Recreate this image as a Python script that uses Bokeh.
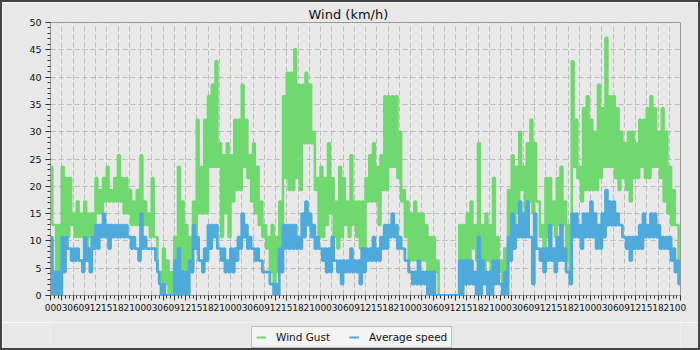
import numpy as np
from bokeh.plotting import figure
from bokeh.layouts import column
from bokeh.models import FixedTicker, Legend, LegendItem, Range1d
from bokeh.embed import file_html
from bokeh.resources import INLINE

# Hour-of-day tick labels (every 3 hours) over 7 days
hour_labels = ["00", "03", "06", "09", "12", "15", "18", "21"]
n_days = 7

# Hourly envelope of the readings (km/h): high / low within each hour
gust_hi = [
    23.6, 12.9, 12.9, 23.6, 21.5, 21.5, 15.0, 17.2, 15.0, 17.2, 15.0, 15.0,
    21.5, 19.3, 21.5, 23.6, 19.3, 21.5, 25.7, 21.5, 21.5, 19.3, 17.2, 19.3,
    25.7, 17.2, 15.0, 21.5, 10.7, 4.3, 8.6, 6.4, 4.3, 10.7, 23.6, 17.2,
    12.9, 10.7, 17.2, 32.2, 23.6, 32.2, 36.5, 38.6, 42.9, 27.9, 25.7, 27.9,
    25.7, 32.2, 32.2, 38.6, 32.2, 25.7, 27.9, 23.6, 17.2, 12.9, 10.7, 12.9,
    10.7, 17.2, 36.5, 40.8, 40.8, 45.1, 38.6, 38.6, 40.8, 38.6, 30.0, 21.5,
    23.6, 21.5, 27.9, 21.5, 17.2, 23.6, 21.5, 17.2, 25.7, 17.2, 17.2, 17.2,
    21.5, 25.7, 27.9, 23.6, 25.7, 36.5, 36.5, 36.5, 36.5, 30.0, 19.3, 17.2,
    15.0, 17.2, 15.0, 15.0, 12.9, 10.7, 10.7, 6.4, 0.0, 0.0, 0.0, 0.0,
    0.0, 12.9, 12.9, 15.0, 17.2, 12.9, 27.9, 12.9, 15.0, 12.9, 21.5, 10.7,
    6.4, 8.6, 19.3, 25.7, 23.6, 30.0, 23.6, 27.9, 32.2, 27.9, 17.2, 12.9,
    21.5, 21.5, 17.2, 21.5, 23.6, 17.2, 12.9, 42.9, 32.2, 23.6, 34.3, 36.5,
    32.2, 30.0, 38.6, 34.3, 47.2, 36.5, 36.5, 34.3, 30.0, 27.9, 30.0, 30.0,
    27.9, 32.2, 32.2, 34.3, 36.5, 34.3, 30.0, 34.3, 30.0, 23.6, 19.3, 12.9,
]
gust_lo = [
    12.9, 4.3, 4.3, 10.7, 10.7, 12.9, 10.7, 10.7, 10.7, 8.6, 10.7, 10.7,
    15.0, 15.0, 17.2, 17.2, 17.2, 17.2, 17.2, 15.0, 15.0, 12.9, 12.9, 12.9,
    12.9, 12.9, 10.7, 10.7, 4.3, 0.0, 2.1, 0.0, 0.0, 0.0, 4.3, 4.3,
    4.3, 4.3, 10.7, 15.0, 15.0, 15.0, 23.6, 23.6, 23.6, 10.7, 15.0, 10.7,
    17.2, 19.3, 19.3, 23.6, 21.5, 17.2, 15.0, 12.9, 10.7, 8.6, 4.3, 2.1,
    4.3, 8.6, 21.5, 19.3, 19.3, 21.5, 19.3, 27.9, 27.9, 27.9, 19.3, 10.7,
    10.7, 12.9, 15.0, 10.7, 8.6, 10.7, 12.9, 10.7, 12.9, 10.7, 8.6, 6.4,
    17.2, 17.2, 17.2, 12.9, 19.3, 19.3, 23.6, 23.6, 21.5, 17.2, 10.7, 6.4,
    6.4, 6.4, 6.4, 6.4, 4.3, 4.3, 4.3, 0.0, 0.0, 0.0, 0.0, 0.0,
    0.0, 0.0, 2.1, 6.4, 8.6, 6.4, 6.4, 4.3, 6.4, 4.3, 6.4, 4.3,
    2.1, 2.1, 10.7, 12.9, 15.0, 19.3, 15.0, 17.2, 15.0, 17.2, 10.7, 8.6,
    10.7, 12.9, 10.7, 12.9, 12.9, 6.4, 4.3, 23.6, 21.5, 17.2, 19.3, 19.3,
    19.3, 19.3, 21.5, 23.6, 23.6, 23.6, 21.5, 19.3, 21.5, 19.3, 17.2, 21.5,
    21.5, 23.6, 21.5, 21.5, 23.6, 23.6, 21.5, 17.2, 15.0, 12.9, 12.9, 4.3,
]
avg_hi = [
    10.7, 4.3, 4.3, 10.7, 10.7, 8.6, 8.6, 8.6, 6.4, 10.7, 8.6, 10.7,
    12.9, 12.9, 15.0, 12.9, 12.9, 12.9, 12.9, 12.9, 12.9, 10.7, 10.7, 8.6,
    15.0, 10.7, 8.6, 8.6, 6.4, 2.1, 2.1, 0.0, 0.0, 6.4, 8.6, 4.3,
    4.3, 6.4, 12.9, 10.7, 6.4, 8.6, 12.9, 12.9, 12.9, 8.6, 8.6, 6.4,
    8.6, 8.6, 10.7, 15.0, 12.9, 10.7, 8.6, 8.6, 6.4, 4.3, 4.3, 2.1,
    2.1, 8.6, 12.9, 12.9, 12.9, 12.9, 10.7, 15.0, 17.2, 15.0, 12.9, 10.7,
    8.6, 8.6, 8.6, 10.7, 6.4, 6.4, 6.4, 6.4, 8.6, 6.4, 6.4, 8.6,
    8.6, 8.6, 10.7, 8.6, 10.7, 12.9, 12.9, 15.0, 12.9, 10.7, 8.6, 6.4,
    4.3, 4.3, 6.4, 4.3, 4.3, 4.3, 4.3, 0.0, 0.0, 0.0, 0.0, 0.0,
    0.0, 6.4, 6.4, 6.4, 6.4, 4.3, 10.7, 6.4, 4.3, 4.3, 6.4, 6.4,
    2.1, 4.3, 10.7, 15.0, 12.9, 17.2, 15.0, 17.2, 10.7, 15.0, 8.6, 8.6,
    8.6, 12.9, 8.6, 10.7, 12.9, 8.6, 4.3, 15.0, 15.0, 12.9, 15.0, 15.0,
    17.2, 15.0, 12.9, 15.0, 19.3, 17.2, 17.2, 15.0, 12.9, 10.7, 10.7, 10.7,
    10.7, 12.9, 15.0, 12.9, 15.0, 15.0, 12.9, 10.7, 10.7, 10.7, 8.6, 6.4,
]
avg_lo = [
    0.0, 0.0, 0.0, 4.3, 8.6, 6.4, 6.4, 6.4, 4.3, 6.4, 4.3, 8.6,
    8.6, 10.7, 10.7, 8.6, 10.7, 10.7, 10.7, 10.7, 10.7, 8.6, 8.6, 6.4,
    8.6, 8.6, 8.6, 8.6, 4.3, 0.0, 0.0, 0.0, 0.0, 0.0, 0.0, 0.0,
    0.0, 4.3, 8.6, 6.4, 4.3, 6.4, 8.6, 10.7, 8.6, 6.4, 4.3, 4.3,
    4.3, 6.4, 8.6, 10.7, 8.6, 8.6, 6.4, 6.4, 4.3, 4.3, 2.1, 0.0,
    0.0, 4.3, 8.6, 8.6, 8.6, 8.6, 8.6, 10.7, 12.9, 10.7, 8.6, 8.6,
    6.4, 4.3, 4.3, 6.4, 4.3, 2.1, 4.3, 4.3, 4.3, 4.3, 2.1, 4.3,
    6.4, 6.4, 6.4, 6.4, 8.6, 8.6, 10.7, 10.7, 8.6, 8.6, 6.4, 4.3,
    2.1, 2.1, 2.1, 2.1, 0.0, 0.0, 0.0, 0.0, 0.0, 0.0, 0.0, 0.0,
    0.0, 0.0, 2.1, 2.1, 2.1, 0.0, 0.0, 2.1, 0.0, 0.0, 2.1, 2.1,
    0.0, 0.0, 6.4, 8.6, 10.7, 10.7, 10.7, 10.7, 2.1, 8.6, 6.4, 4.3,
    6.4, 6.4, 4.3, 6.4, 6.4, 4.3, 2.1, 10.7, 10.7, 8.6, 10.7, 10.7,
    10.7, 8.6, 8.6, 10.7, 12.9, 12.9, 12.9, 12.9, 10.7, 8.6, 6.4, 8.6,
    8.6, 8.6, 10.7, 10.7, 10.7, 10.7, 8.6, 8.6, 8.6, 6.4, 4.3, 2.1,
]

series_names = ["Wind Gust", "Average speed"]

GREEN = "#6fd86f"
BLUE = "#4eaadb"
BG = "#e8e8e8"
FONT = "DejaVu Sans"

total_h = 24 * n_days


def interleave(hi, lo):
    vals = np.empty(2 * len(hi) + 1)
    vals[0:-1:2] = hi
    vals[1:-1:2] = lo
    vals[-1] = lo[-1]
    return vals


x = np.arange(0, 2 * total_h + 1) * 0.5
gust = interleave(gust_hi, gust_lo)
avg = interleave(avg_hi, avg_lo)

# ---- main chart ----
p = figure(width=696, height=320, output_backend="svg", toolbar_location=None,
           x_range=Range1d(0, total_h), y_range=Range1d(0, 50),
           min_border_left=48, min_border_right=18, min_border_top=20, min_border_bottom=27,
           background_fill_color=BG, border_fill_color=BG,
           title="Wind (km/h)")
p.outline_line_color = "#999999"

p.title.align = "left"
p.title.offset = 258
p.title.standoff = 2
p.title.text_font = FONT
p.title.text_font_size = "13px"
p.title.text_font_style = "normal"
p.title.text_color = "#111111"

p.step(x, gust, mode="after", line_color=GREEN, line_width=2.5)
p.step(x, avg, mode="after", line_color=BLUE, line_width=2.8)

xt = list(range(0, total_h + 1, 3))
p.xaxis.ticker = FixedTicker(ticks=xt, minor_ticks=list(range(0, total_h + 1)))
p.xaxis.major_label_overrides = {t: hour_labels[(t // 3) % len(hour_labels)] for t in xt}
p.yaxis.ticker = FixedTicker(ticks=list(range(0, 51, 5)), minor_ticks=list(range(0, 51)))
for ax in (p.xaxis[0], p.yaxis[0]):
    ax.axis_line_color = "#999999"
    ax.major_tick_line_color = "#333333"
    ax.minor_tick_line_color = "#333333"
    ax.major_tick_in = 0
    ax.major_tick_out = 5
    ax.minor_tick_in = 0
    ax.minor_tick_out = 3
    ax.major_label_text_font = FONT
    ax.major_label_text_color = "#111111"
p.xaxis.major_label_text_font_size = "9px"
p.xaxis.major_label_standoff = 3
p.yaxis.major_label_text_font_size = "9.5px"
p.yaxis.major_label_standoff = 4

for g in (p.xgrid[0], p.ygrid[0]):
    g.grid_line_color = "#bbbbbb"
    g.grid_line_dash = "5 3"
    g.grid_line_width = 1

# ---- legend strip below the chart (its series lie outside its own visible range) ----
lg = figure(width=696, height=26, output_backend="svg", toolbar_location=None,
            x_axis_type=None, y_axis_type=None,
            x_range=Range1d(0, total_h), y_range=Range1d(-2, -1),
            min_border_left=48, min_border_right=18, min_border_top=0, min_border_bottom=0,
            background_fill_color=BG, border_fill_color=BG)
lg.outline_line_color = None
lg.grid.visible = False
k_g = lg.step(x, gust, mode="after", line_color=GREEN, line_width=2)
k_a = lg.step(x, avg, mode="after", line_color=BLUE, line_width=2)

legend = Legend(items=[LegendItem(label=series_names[0], renderers=[k_g]),
                       LegendItem(label=series_names[1], renderers=[k_a])],
                location=(201, 0), orientation="horizontal",
                label_text_font=FONT, label_text_font_size="10.5px", label_text_color="#111111",
                glyph_width=10, glyph_height=12, label_standoff=10, spacing=19,
                padding=4, margin=0, border_line_color="#888888",
                background_fill_color="#f4f4f4", background_fill_alpha=1.0)
lg.add_layout(legend, "center")

layout = column(p, lg, spacing=0, styles={"border": "2px solid #444444"})

open("out.html", "w").write(file_html(layout, INLINE))
